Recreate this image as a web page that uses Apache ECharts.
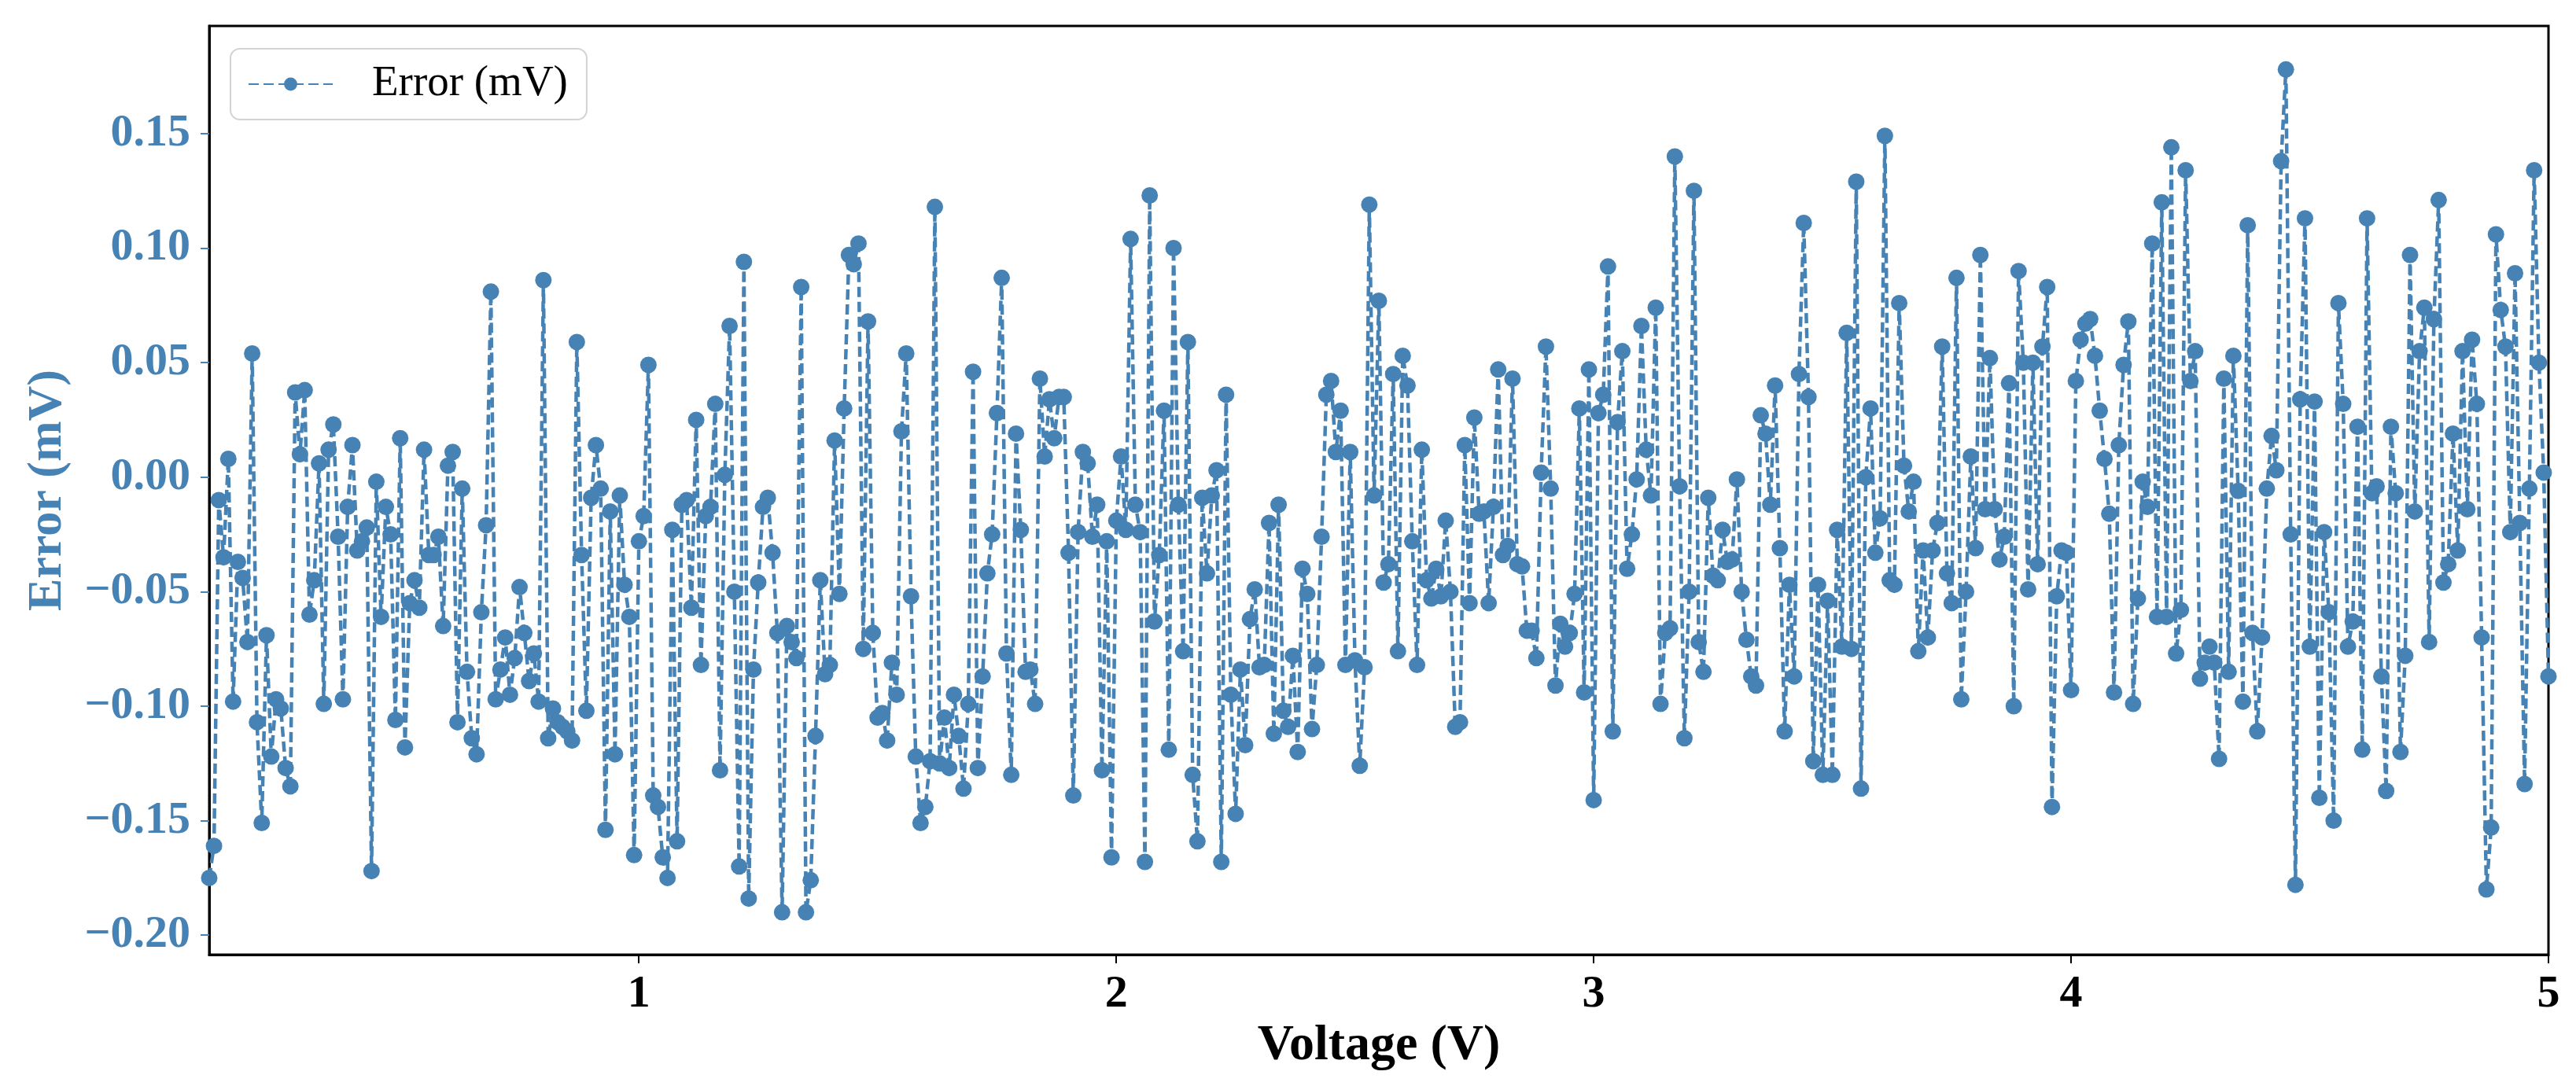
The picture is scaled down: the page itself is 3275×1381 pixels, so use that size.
<!DOCTYPE html>
<html>
<head>
<meta charset="utf-8">
<title>Error (mV) vs Voltage (V)</title>
<script src="https://cdn.jsdelivr.net/npm/echarts@6/dist/echarts.min.js"></script>
<style>
    html, body { margin: 0; padding: 0; background: #fff; }
    #chart { width: 3275px; height: 1381px; }
</style>
</head>
<body>
<div id="chart"></div>
<script>
    // ========= 数据=========
    const V_START = 0.10;   // 第一个电压点
    const V_STEP = 0.01;    // 电压步长

    const errorMv = [
        -0.175, -0.161, -0.010, -0.035, 0.008, -0.098, -0.037, -0.044, -0.072, 0.054,
        -0.107, -0.151, -0.069, -0.122, -0.097, -0.101, -0.127, -0.135, 0.037, 0.010,
        0.038, -0.060, -0.045, 0.006, -0.099, 0.012, 0.023, -0.026, -0.097, -0.013,
        0.014, -0.032, -0.028, -0.022, -0.172, -0.002, -0.061, -0.013, -0.025, -0.106,
        0.017, -0.118, -0.055, -0.045, -0.057, 0.012, -0.034, -0.034, -0.026, -0.065,
        0.005, 0.011, -0.107, -0.005, -0.085, -0.114, -0.121, -0.059, -0.021, 0.081,
        -0.097, -0.084, -0.070, -0.095, -0.079, -0.048, -0.068, -0.089, -0.077, -0.098,
        0.086, -0.114, -0.101, -0.107, -0.109, -0.111, -0.115, 0.059, -0.034, -0.102,
        -0.009, 0.014, -0.005, -0.154, -0.015, -0.121, -0.008, -0.047, -0.061, -0.165,
        -0.028, -0.017, 0.049, -0.139, -0.144, -0.166, -0.175, -0.023, -0.159, -0.012,
        -0.010, -0.057, 0.025, -0.082, -0.017, -0.013, 0.032, -0.128, 0.001, 0.066,
        -0.050, -0.170, 0.094, -0.184, -0.084, -0.046, -0.013, -0.009, -0.033, -0.068,
        -0.190, -0.065, -0.072, -0.079, 0.083, -0.190, -0.176, -0.113, -0.045, -0.086,
        -0.082, 0.016, -0.051, 0.030, 0.097, 0.093, 0.102, -0.075, 0.068, -0.068,
        -0.105, -0.103, -0.115, -0.081, -0.095, 0.020, 0.054, -0.052, -0.122, -0.151,
        -0.144, -0.124, 0.118, -0.125, -0.105, -0.127, -0.095, -0.113, -0.136, -0.099,
        0.046, -0.127, -0.087, -0.042, -0.025, 0.028, 0.087, -0.077, -0.130, 0.019,
        -0.023, -0.085, -0.084, -0.099, 0.043, 0.009, 0.034, 0.017, 0.035, 0.035,
        -0.033, -0.139, -0.024, 0.011, 0.006, -0.026, -0.012, -0.128, -0.028, -0.166,
        -0.019, 0.009, -0.023, 0.104, -0.012, -0.024, -0.168, 0.123, -0.063, -0.034,
        0.029, -0.119, 0.100, -0.012, -0.076, 0.059, -0.130, -0.159, -0.009, -0.042,
        -0.008, 0.003, -0.168, 0.036, -0.095, -0.147, -0.084, -0.117, -0.062, -0.049,
        -0.083, -0.082, -0.020, -0.112, -0.012, -0.102, -0.109, -0.078, -0.120, -0.040,
        -0.051, -0.110, -0.082, -0.026, 0.036, 0.042, 0.011, 0.029, -0.082, 0.011,
        -0.080, -0.126, -0.083, 0.119, -0.008, 0.077, -0.046, -0.038, 0.045, -0.076,
        0.053, 0.040, -0.028, -0.082, 0.012, -0.045, -0.053, -0.040, -0.052, -0.019,
        -0.050, -0.109, -0.107, 0.014, -0.055, 0.026, -0.016, -0.015, -0.055, -0.013,
        0.047, -0.034, -0.030, 0.043, -0.038, -0.039, -0.067, -0.067, -0.079, 0.002,
        0.057, -0.005, -0.091, -0.064, -0.074, -0.068, -0.051, 0.030, -0.094, 0.047,
        -0.141, 0.028, 0.036, 0.092, -0.111, 0.024, 0.055, -0.040, -0.025, -0.001,
        0.066, 0.012, -0.008, 0.074, -0.099, -0.068, -0.066, 0.140, -0.004, -0.114,
        -0.050, 0.125, -0.072, -0.085, -0.009, -0.043, -0.045, -0.023, -0.037, -0.036,
        -0.001, -0.050, -0.071, -0.087, -0.091, 0.027, 0.019, -0.012, 0.040, -0.031,
        -0.111, -0.047, -0.087, 0.045, 0.111, 0.035, -0.124, -0.047, -0.130, -0.054,
        -0.130, -0.023, -0.074, 0.063, -0.075, 0.129, -0.136, 0.000, 0.030, -0.033,
        -0.018, 0.149, -0.045, -0.047, 0.076, 0.005, -0.015, -0.002, -0.076, -0.032,
        -0.070, -0.032, -0.020, 0.057, -0.042, -0.055, 0.087, -0.097, -0.050, 0.009,
        -0.031, 0.097, -0.014, 0.052, -0.014, -0.036, -0.026, 0.041, -0.100, 0.090,
        0.050, -0.049, 0.050, -0.038, 0.057, 0.083, -0.144, -0.052, -0.032, -0.033,
        -0.093, 0.042, 0.060, 0.067, 0.069, 0.053, 0.029, 0.008, -0.016, -0.094,
        0.014, 0.049, 0.068, -0.099, -0.053, -0.002, -0.013, 0.102, -0.061, 0.120,
        -0.061, 0.144, -0.077, -0.058, 0.134, 0.042, 0.055, -0.088, -0.081, -0.074,
        -0.081, -0.123, 0.043, -0.085, 0.053, -0.006, -0.098, 0.110, -0.068, -0.111,
        -0.070, -0.005, 0.018, 0.003, 0.138, 0.178, -0.025, -0.178, 0.034, 0.113,
        -0.074, 0.033, -0.140, -0.024, -0.059, -0.150, 0.076, 0.032, -0.074, -0.063,
        0.022, -0.119, 0.113, -0.007, -0.004, -0.087, -0.137, 0.022, -0.007, -0.120,
        -0.078, 0.097, -0.015, 0.055, 0.074, -0.072, 0.069, 0.121, -0.046, -0.038,
        0.019, -0.032, 0.055, -0.014, 0.060, 0.032, -0.070, -0.180, -0.153, 0.106,
        0.073, 0.057, -0.024, 0.089, -0.020, -0.134, -0.005, 0.134, 0.050, 0.002,
        -0.087
    ];

    // 电压网格：0.10 ~ 5.00 V，每 0.01 V 一个点
    const voltages = errorMv.map((_, i) => +(V_START + i * V_STEP).toFixed(2));

    const xTicks = [1, 2, 3, 4, 5];
    const yTicks = [-0.20, -0.15, -0.10, -0.05, 0.00, 0.05, 0.10, 0.15];

    const seriesName = "Error (mV)";
    const xName = "Voltage (V)";
    const yName = "Error (mV)";

    // ========= 样式 =========
    const BLUE = "#4682B4";
    const FONT = "'Liberation Serif', 'Times New Roman', serif";

    function fmtTick(v) {
        const s = Math.abs(v).toFixed(2);
        return v < -1e-9 ? "\u2212" + s : s;
    }

    const chart = echarts.init(document.getElementById("chart"), null, { renderer: "canvas" });

    chart.setOption({
        animation: false,
        backgroundColor: "#fff",
        grid: {
            left: 266, right: 35, top: 33, bottom: 167,
            containLabel: false,
            outerBoundsMode: "none",
            show: true,
            borderColor: "#000",
            borderWidth: 3,
            backgroundColor: "#fff"
        },
        legend: {
            left: 293,
            top: 62,
            orient: "horizontal",
            padding: [14, 24, 14, 22],
            itemWidth: 107,
            itemHeight: 21,
            backgroundColor: "#fff",
            borderColor: "#d3d3d3",
            borderWidth: 2,
            borderRadius: 12,
            textStyle: {
                fontFamily: FONT,
                fontSize: 55,
                color: "#000",
                lineHeight: 62,
                padding: [0, 0, 0, 45]
            },
            data: [seriesName]
        },
        xAxis: {
            type: "value",
            min: 0.1,
            max: 5,
            name: xName,
            nameLocation: "middle",
            nameGap: 72,
            nameTextStyle: {
                fontFamily: FONT, fontSize: 64, fontWeight: "bold", color: "#000"
            },
            axisLine: { show: true, onZero: false, lineStyle: { color: "#000", width: 3 } },
            axisTick: {
                show: true, inside: false, length: 11,
                customValues: xTicks,
                lineStyle: { color: "#000", width: 2 }
            },
            axisLabel: {
                customValues: xTicks,
                margin: 22,
                fontFamily: FONT, fontSize: 58, fontWeight: "bold", color: "#000",
                formatter: v => String(v)
            },
            splitLine: { show: false }
        },
        yAxis: {
            type: "value",
            min: -0.2085,
            max: 0.197,
            name: yName,
            nameLocation: "middle",
            nameRotate: 90,
            nameGap: 174,
            nameTextStyle: {
                fontFamily: FONT, fontSize: 62, fontWeight: "bold", color: BLUE
            },
            axisLine: { show: true, onZero: false, lineStyle: { color: "#000", width: 3 } },
            axisTick: {
                show: true, inside: false, length: 11,
                customValues: yTicks,
                lineStyle: { color: BLUE, width: 2 }
            },
            axisLabel: {
                customValues: yTicks,
                margin: 24,
                fontFamily: FONT, fontSize: 58, fontWeight: "bold", color: BLUE,
                formatter: fmtTick
            },
            splitLine: { show: false }
        },
        series: [{
            name: seriesName,
            type: "line",
            data: voltages.map((v, i) => [v, errorMv[i]]),
            showAllSymbol: true,
            symbol: "circle",
            symbolSize: 21,
            clip: true,
            itemStyle: { color: BLUE, borderWidth: 0 },
            lineStyle: { color: BLUE, width: 4.5, type: [13, 6] },
            emphasis: { disabled: true }
        }]
    });
</script>
</body>
</html>
